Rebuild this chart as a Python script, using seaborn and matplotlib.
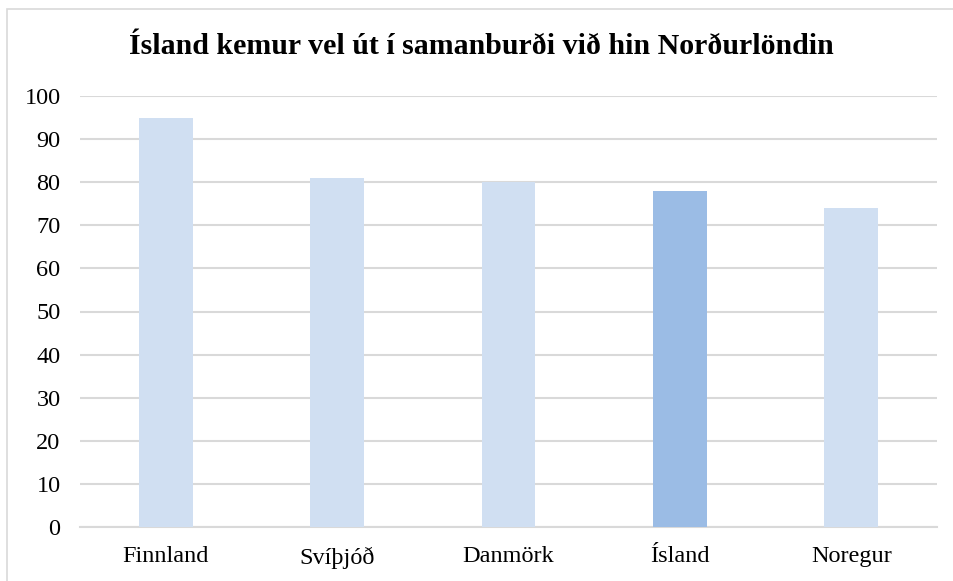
import matplotlib
matplotlib.use("Agg")
import matplotlib.pyplot as plt
import seaborn as sns
import pandas as pd
from matplotlib.patches import Rectangle

categories = ["Finnland", "Svíþjóð", "Danmörk", "Ísland", "Noregur"]
values = [95, 81, 80, 78, 74]
highlight = "Ísland"
title = "Ísland kemur vel út í samanburði við hin Norðurlöndin"

light = "#D0DFF2"
dark = "#9BBCE5"
palette = {c: (dark if c == highlight else light) for c in categories}

sns.set_theme(style="white")
plt.rcParams["font.family"] = ["Liberation Serif", "DejaVu Serif"]
plt.rcParams["text.color"] = "black"

df = pd.DataFrame({"land": categories, "gildi": values})

fig = plt.figure(figsize=(9.54, 5.81), dpi=100)
ax = fig.add_axes([80 / 954, 1 - 527 / 581, (937 - 80) / 954, (527 - 96) / 581])
sns.barplot(data=df, x="land", y="gildi", hue="land", palette=palette,
            width=0.315, legend=False, ax=ax, saturation=1, linewidth=0,
            zorder=3)
ax.set_ylim(0, 100)
ax.set_yticks(range(0, 101, 10))
ax.set_xlim(-0.5, len(categories) - 0.5)
ax.yaxis.grid(True, color="#D9D9D9", linewidth=1.5, zorder=0)
ax.set_axisbelow(True)
for s in ["top", "right", "left"]:
    ax.spines[s].set_visible(False)
ax.spines["bottom"].set_color("#D9D9D9")
ax.spines["bottom"].set_linewidth(1.5)
ax.set_xlabel("")
ax.set_ylabel("")
ax.tick_params(axis="both", length=0, labelsize=17.5, colors="black")
ax.tick_params(axis="y", pad=14)
ax.tick_params(axis="x", pad=14)

fig.text(481 / 954, 1 - 47 / 581, title, ha="center", va="center",
         fontsize=21.5, fontweight="bold", color="black")

fig.patches.append(Rectangle((7 / 954, -0.05), 1.1, 1 - 9 / 581 + 0.05,
                             transform=fig.transFigure, fill=False,
                             edgecolor="#D9D9D9", linewidth=1.2))

fig.savefig("out.png", dpi=100)
